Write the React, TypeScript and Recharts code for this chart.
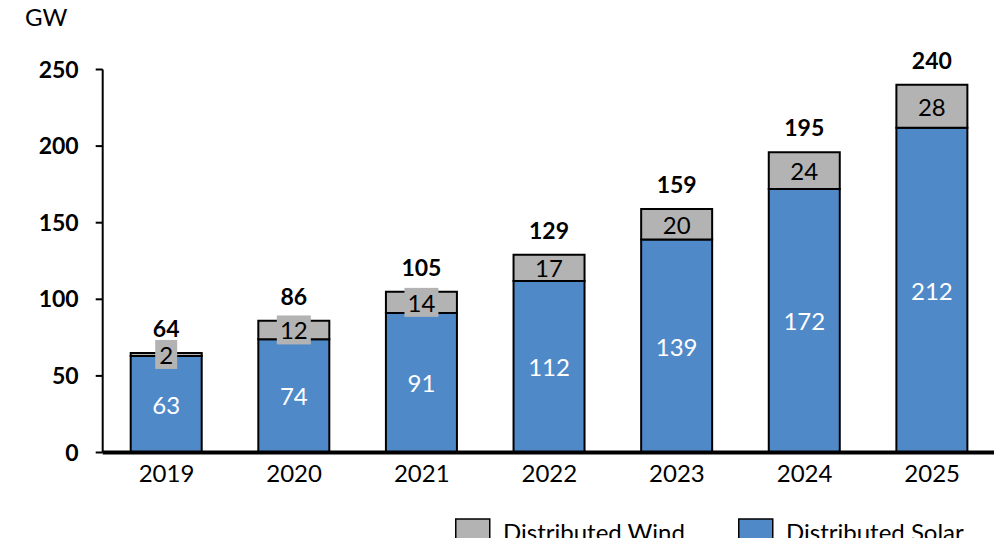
import React from 'react';
import { ComposedChart, Bar, XAxis, YAxis, LabelList } from 'recharts';

const years = ['2019', '2020', '2021', '2022', '2023', '2024', '2025'];
const solar = [63, 74, 91, 112, 139, 172, 212];
const wind = [2, 12, 14, 17, 20, 24, 28];
const totals = [64, 86, 105, 129, 159, 195, 240];
const yTicks = [0, 50, 100, 150, 200, 250];
const legendItems = [
  { label: 'Distributed Wind', color: '#B3B3B3' },
  { label: 'Distributed Solar', color: '#5089C8' },
];

const SOLAR = '#5089C8';
const WIND = '#B3B3B3';
const FONT = 'Lato, "Noto Sans", sans-serif';

const data = years.map((y, i) => ({ year: y, solar: solar[i], wind: wind[i], total: totals[i] }));

const SolarLabel = (p: any) => {
  const { x, y, width, height, value } = p;
  return (
    <text x={x + width / 2} y={y + height / 2} fill="#fff" fontSize={24} fontFamily={FONT}
      textAnchor="middle" dominantBaseline="central">{value}</text>
  );
};

const WindLabel = (p: any) => {
  const { x, y, width, height, value, index } = p;
  const s = String(value);
  const w = s.length * 12 + 10;
  const cx = x + width / 2;
  const cy = y + height / 2;
  return (
    <g>
      {height < 24 ? <rect x={cx - w / 2} y={cy - 14.5} width={w} height={29} fill={WIND} /> : null}
      <text x={cx} y={cy} fill="#000" fontSize={24} fontFamily={FONT}
        textAnchor="middle" dominantBaseline="central">{s}</text>
      <text x={cx} y={y - 25} fill="#000" fontSize={23} fontWeight="bold" fontFamily={FONT}
        textAnchor="middle" dominantBaseline="central">{totals[index]}</text>
    </g>
  );
};

const LegendSvg = () => {
  const starts = [455, 738];
  return (
    <svg width={1002} height={546} style={{ position: 'absolute', left: 0, top: 0, pointerEvents: 'none' }}>
      {legendItems.map((it, i) => (
        <g key={it.label}>
          <rect x={starts[i] + 0.75} y={519} width={34} height={30} fill={it.color} stroke="#000" strokeWidth={1.5} />
          <text x={starts[i] + 48} y={541} fontSize={24} fontFamily={FONT} fill="#000">{it.label}</text>
        </g>
      ))}
    </svg>
  );
};

export default function App() {
  return (
    <div style={{ position: 'relative', margin: '-8px', width: 1002, height: 546, background: '#fff', overflow: 'hidden' }}>
      <ComposedChart width={1002} height={546} data={data}
        margin={{ top: 69.5, right: 6, bottom: 63.5, left: 42.7 }} barCategoryGap={0}>
        <XAxis dataKey="year" height={30} axisLine={{ stroke: '#000', strokeWidth: 4 }} tickLine={false}
          tick={{ fill: '#000', fontSize: 24, fontFamily: FONT }} tickMargin={6} />
        <YAxis width={60} domain={[0, 250]} ticks={yTicks} interval={0}
          axisLine={{ stroke: '#000', strokeWidth: 2 }} tickLine={{ stroke: '#000', strokeWidth: 2 }} tickSize={7}
          tickMargin={17}
          tick={{ fill: '#000', fontSize: 23, fontWeight: 'bold', fontFamily: FONT }}
          label={{ value: 'GW', position: 'insideTopLeft', content: () => (
            <text x={25} y={16} fontSize={24} fontFamily={FONT} fill="#000" dominantBaseline="central">GW</text>
          ) }} />
        <Bar dataKey="solar" name="Distributed Solar" stackId="a" fill={SOLAR} stroke="#000" strokeWidth={2}
          barSize={71} isAnimationActive={false}>
          <LabelList dataKey="solar" content={SolarLabel} />
        </Bar>
        <Bar dataKey="wind" name="Distributed Wind" stackId="a" fill={WIND} stroke="#000" strokeWidth={2}
          barSize={71} isAnimationActive={false}>
          <LabelList dataKey="wind" content={WindLabel} />
        </Bar>
      </ComposedChart>
      <LegendSvg />
    </div>
  );
}
